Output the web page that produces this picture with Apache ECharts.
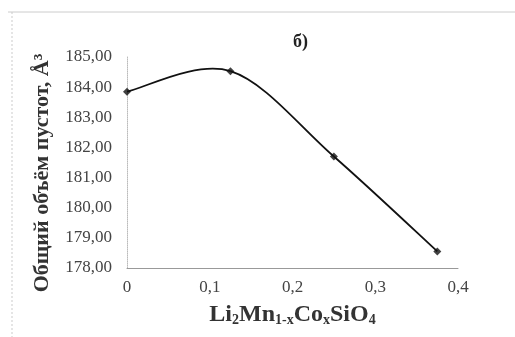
<!DOCTYPE html>
<html><head><meta charset="utf-8">
<script src="https://cdn.jsdelivr.net/npm/echarts@6/dist/echarts.min.js"></script>
<style>html,body{margin:0;padding:0;background:#fff}#c{width:515px;height:337px}</style>
</head><body><div id="c"></div>
<script>
var xValues = [0, 0.125, 0.25, 0.375];
var volumes = [183.85, 184.53, 181.70, 178.55];
var xTicks = [0, 0.1, 0.2, 0.3, 0.4];
var yTicks = [178, 179, 180, 181, 182, 183, 184, 185];
var titleText = 'б)';
var yName = 'Общий объём пустот, Å³';

var serif = '"Liberation Serif","Times New Roman",serif';
var n = xValues.length;
function renderSeg(params, api) {
  var i = params.dataIndex;
  if (i >= n - 1) return null;
  function P(k) { k = Math.max(0, Math.min(n - 1, k)); return api.coord([xValues[k], volumes[k]]); }
  var p0 = P(i - 1), p1 = P(i), p2 = P(i + 1), p3 = P(i + 2);
  var t = 1 / 6;
  return {
    type: 'bezierCurve',
    shape: {
      x1: p1[0], y1: p1[1], x2: p2[0], y2: p2[1],
      cpx1: p1[0] + (p2[0] - p0[0]) * t, cpy1: p1[1] + (p2[1] - p0[1]) * t,
      cpx2: p2[0] - (p3[0] - p1[0]) * t, cpy2: p2[1] - (p3[1] - p1[1]) * t
    },
    style: { stroke: '#111', lineWidth: 1.8, fill: null }
  };
}
var pts = xValues.map(function(x, i){ return [x, volumes[i]]; });
var chart = echarts.init(document.getElementById('c'));
chart.setOption({
  animation: false,
  backgroundColor: '#fff',
  title: { text: titleText, left: 288, top: 28,
    textStyle: { fontFamily: serif, fontWeight: 'bold', fontSize: 18, color: '#222' } },
  grid: { left: 127, right: 57, top: 57, bottom: 69 },
  xAxis: {
    type: 'value', min: xTicks[0], max: xTicks[xTicks.length-1], interval: 0.1,
    axisLine: { show: true, lineStyle: { color: '#999', width: 1 } },
    axisTick: { show: false }, splitLine: { show: false },
    axisLabel: { margin: 11, fontFamily: serif, fontSize: 17, color: '#444',
      formatter: function(v){ return v === 0 ? '0' : v.toFixed(1).replace('.', ','); } },
    name: '{m|Li}{s|2}{m|Mn}{s|1-x}{m|Co}{s|x}{m|SiO}{s|4}',
    nameLocation: 'middle', nameGap: 35,
    nameTextStyle: { rich: {
      m: { fontFamily: serif, fontWeight: 'bold', fontSize: 24, color: '#333' },
      s: { fontFamily: serif, fontWeight: 'bold', fontSize: 14, color: '#333', verticalAlign: 'bottom', padding: [9,0,0,0] }
    } }
  },
  yAxis: {
    type: 'value', min: yTicks[0], max: yTicks[yTicks.length-1], interval: 1,
    axisLine: { show: true, lineStyle: { color: '#bbb', type: 'dotted', width: 1 } },
    axisTick: { show: false }, splitLine: { show: false },
    axisLabel: { margin: 15, fontFamily: serif, fontSize: 17, color: '#444',
      formatter: function(v){ return v.toFixed(2).replace('.', ','); } }
  },
  graphic: [
    { type: 'line', shape: { x1: 8, y1: 12, x2: 515, y2: 12 }, style: { stroke: '#ccc', lineWidth: 1 } },
    { type: 'line', shape: { x1: 12, y1: 12, x2: 12, y2: 337 }, style: { stroke: '#ccc', lineWidth: 1, lineDash: [2, 2] } },
    { type: 'text', x: 42, y: 173, rotation: Math.PI / 2,
      style: { text: yName, font: 'bold 22px ' + serif, fill: '#333', textAlign: 'center', textVerticalAlign: 'middle' } }
  ],
  series: [{
    type: 'custom', renderItem: renderSeg, data: pts, z: 2
  }, {
    type: 'scatter', data: pts, symbol: 'diamond', symbolSize: 8,
    itemStyle: { color: '#111' }, z: 3
  }]
});
</script></body></html>
